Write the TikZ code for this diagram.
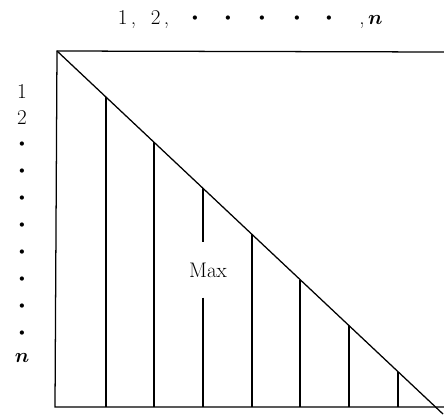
\documentclass[tikz,border=0pt]{standalone}
\usepackage{amsmath}
\usepackage{bm}
\usepackage{fontspec}
\usetikzlibrary{positioning, calc}

\newcommand{\dotmark}{{\scriptsize$\bullet$}}

\begin{document}
\begin{tikzpicture}[x=0.025cm, y=-0.025cm, line width=0.9pt,
    font=\fontsize{15}{17}\selectfont,
    lbl/.style={inner sep=0pt, anchor=base}]
    \useasboundingbox (0,0) rectangle (444,414);
    % frame and diagonal
    \coordinate (tl) at (57,51);
    \coordinate (tr) at (444,52);
    \coordinate (bl) at (55,407);
    \coordinate (br) at (444,407);
    \coordinate (dend) at (443,414);
    \draw (tr) -- (tl) -- (bl) -- (br);
    \draw (tl) -- (dend);

    % columns under the diagonal
    \foreach \x [count=\i] in {106,154,252,300,349,398} {
        \coordinate (c\i) at ($(tl)!{(\x-57)/386}!(dend)$);
        \draw (c\i) -- (c\i |- bl);
    }
    \node[inner sep=0pt, minimum height=1.35cm] (max) at (208,270) {Max};
    \coordinate (cm) at ($(tl)!{(203-57)/386}!(dend)$);
    \draw (cm) -- (cm |- max.north);
    \draw (cm |- max.south) -- (cm |- bl);

    % top labels
    \node[lbl] (t1) at (127,24) {1\,,};
    \node[lbl] (t2) at (160,24) {2\,,};
    \foreach \x [count=\i] in {195,228,262,297,329}
        \node[inner sep=0pt] (td\i) at (\x,18) {\dotmark};
    \node[lbl] (tn) at (371,24) {,\,$\bm{n}$};

    % left labels
    \node[lbl] (l1) at (22,98) {1};
    \node[lbl] (l2) at (22,124) {2};
    \foreach \y [count=\i] in {144,171,198,225,252,279,306,333}
        \node[inner sep=0pt] (ld\i) at (22,\y) {\dotmark};
    \node[lbl] (ln) at (22,362) {$\bm{n}$};
\end{tikzpicture}
\end{document}
